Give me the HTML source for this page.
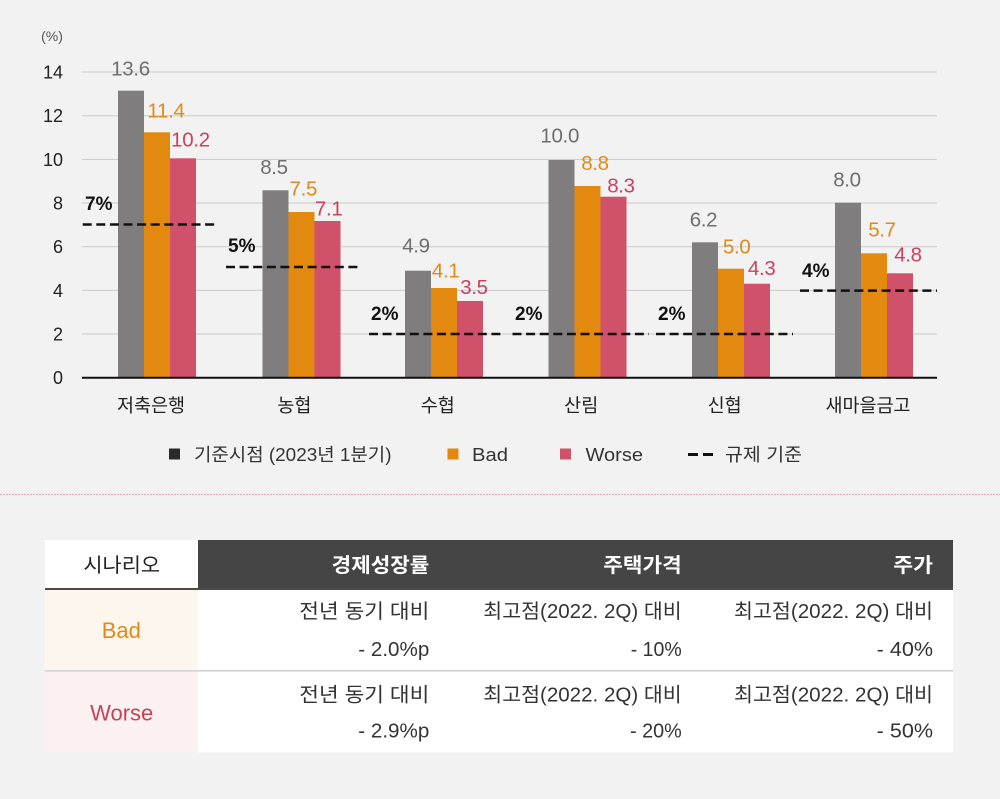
<!DOCTYPE html>
<html>
<head>
<meta charset="utf-8">
<style>
html,body{margin:0;padding:0;background:#f2f2f2;}
svg{display:block;}
text{font-family:"Liberation Sans","Noto Sans CJK KR",sans-serif;}
</style>
</head>
<body>
<svg width="1000" height="799" viewBox="0 0 1000 799" xmlns="http://www.w3.org/2000/svg">
<rect x="0" y="0" width="1000" height="799" fill="#f2f2f2"/>

<!-- gridlines -->
<g stroke="#c9c9c9" stroke-width="1">
<line x1="82" y1="72" x2="937" y2="72"/>
<line x1="82" y1="115.7" x2="937" y2="115.7"/>
<line x1="82" y1="159.4" x2="937" y2="159.4"/>
<line x1="82" y1="203" x2="937" y2="203"/>
<line x1="82" y1="246.7" x2="937" y2="246.7"/>
<line x1="82" y1="290.4" x2="937" y2="290.4"/>
<line x1="82" y1="334" x2="937" y2="334"/>
</g>

<!-- y ticks -->
<g font-size="18" fill="#222" text-anchor="end">
<text x="63" y="78.5">14</text>
<text x="63" y="122.2">12</text>
<text x="63" y="165.9">10</text>
<text x="63" y="209.5">8</text>
<text x="63" y="253.2">6</text>
<text x="63" y="296.9">4</text>
<text x="63" y="340.5">2</text>
<text x="63" y="384.2">0</text>
</g>
<text x="52" y="41" font-size="14" fill="#555" text-anchor="middle">(%)</text>

<!-- bars -->
<g>
<rect x="118" y="90.7" width="26" height="286.3" fill="#7f7d7e"/>
<rect x="144" y="132.3" width="26" height="244.7" fill="#e4890f"/>
<rect x="170" y="158.3" width="26" height="218.7" fill="#d0516a"/>

<rect x="262.5" y="190.3" width="26" height="186.7" fill="#7f7d7e"/>
<rect x="288.5" y="212" width="26" height="165" fill="#e4890f"/>
<rect x="314.5" y="221" width="26" height="156" fill="#d0516a"/>

<rect x="405" y="270.7" width="26" height="106.3" fill="#7f7d7e"/>
<rect x="431" y="288" width="26" height="89" fill="#e4890f"/>
<rect x="457" y="301" width="26" height="76" fill="#d0516a"/>

<rect x="548.5" y="160" width="26" height="217" fill="#7f7d7e"/>
<rect x="574.5" y="186" width="26" height="191" fill="#e4890f"/>
<rect x="600.5" y="196.7" width="26" height="180.3" fill="#d0516a"/>

<rect x="692" y="242.3" width="26" height="134.7" fill="#7f7d7e"/>
<rect x="718" y="268.7" width="26" height="108.3" fill="#e4890f"/>
<rect x="744" y="283.7" width="26" height="93.3" fill="#d0516a"/>

<rect x="835" y="202.7" width="26" height="174.3" fill="#7f7d7e"/>
<rect x="861" y="253.3" width="26" height="123.7" fill="#e4890f"/>
<rect x="887" y="273.3" width="26" height="103.7" fill="#d0516a"/>
</g>

<!-- axis -->
<line x1="82" y1="377.7" x2="937" y2="377.7" stroke="#111" stroke-width="2"/>

<!-- regulation dashed lines -->
<g stroke="#111" stroke-width="2.5" stroke-dasharray="9 4.6">
<line x1="82.7" y1="224.5" x2="218" y2="224.5"/>
<line x1="226" y1="267" x2="362" y2="267"/>
<line x1="369" y1="334" x2="505" y2="334"/>
<line x1="512.5" y1="334" x2="649" y2="334"/>
<line x1="656" y1="334" x2="793" y2="334"/>
<line x1="800" y1="290.6" x2="937" y2="290.6"/>
</g>

<!-- regulation labels -->
<g font-size="19" font-weight="bold" fill="#111">
<text x="85" y="210">7%</text>
<text x="228" y="252">5%</text>
<text x="371" y="320">2%</text>
<text x="515" y="320">2%</text>
<text x="658" y="320">2%</text>
<text x="802" y="277">4%</text>
</g>

<!-- value labels -->
<g font-size="20.5" text-anchor="middle" letter-spacing="-0.3">
<text x="130.5" y="75.3" fill="#6e6e6e">13.6</text>
<text x="166" y="117.3" fill="#e08a1a">11.4</text>
<text x="190.5" y="146.6" fill="#c9415c">10.2</text>

<text x="274" y="174" fill="#6e6e6e">8.5</text>
<text x="303.3" y="195.6" fill="#e08a1a">7.5</text>
<text x="328.7" y="215.6" fill="#c9415c">7.1</text>

<text x="416" y="252.3" fill="#6e6e6e">4.9</text>
<text x="445.7" y="277.3" fill="#e08a1a">4.1</text>
<text x="474" y="294" fill="#c9415c">3.5</text>

<text x="559.7" y="142.3" fill="#6e6e6e">10.0</text>
<text x="595" y="170" fill="#e08a1a">8.8</text>
<text x="621" y="192.3" fill="#c9415c">8.3</text>

<text x="703.5" y="226.3" fill="#6e6e6e">6.2</text>
<text x="736.7" y="253.3" fill="#e08a1a">5.0</text>
<text x="761.7" y="275" fill="#c9415c">4.3</text>

<text x="847" y="186.3" fill="#6e6e6e">8.0</text>
<text x="882" y="236.3" fill="#e08a1a">5.7</text>
<text x="908" y="261.3" fill="#c9415c">4.8</text>
</g>

<!-- category labels -->
<g font-size="18.5" fill="#222" text-anchor="middle">
<text x="151" y="412">저축은행</text>
<text x="294.4" y="412">농협</text>
<text x="437.8" y="412">수협</text>
<text x="581.2" y="412">산림</text>
<text x="724.6" y="412">신협</text>
<text x="868" y="412">새마을금고</text>
</g>

<!-- legend -->
<rect x="169" y="448.5" width="11" height="11" fill="#2a2a2a"/>
<text x="194" y="461" font-size="18" fill="#333" textLength="197.5" lengthAdjust="spacingAndGlyphs">기준시점 (2023년 1분기)</text>
<rect x="447.5" y="448.5" width="11" height="11" fill="#e4890f"/>
<text x="472" y="461" font-size="18" fill="#333" textLength="36" lengthAdjust="spacingAndGlyphs">Bad</text>
<rect x="560" y="448.5" width="11" height="11" fill="#d0516a"/>
<text x="585.5" y="461" font-size="18" fill="#333" textLength="57.5" lengthAdjust="spacingAndGlyphs">Worse</text>
<line x1="688" y1="454.5" x2="713" y2="454.5" stroke="#111" stroke-width="3" stroke-dasharray="10 5"/>
<text x="725" y="461" font-size="18" fill="#333" textLength="77" lengthAdjust="spacingAndGlyphs">규제 기준</text>

<!-- separator -->
<line x1="0" y1="494.5" x2="1000" y2="494.5" stroke="#e6adbc" stroke-width="1.2" stroke-dasharray="2 1"/>

<!-- table -->
<rect x="45" y="540" width="153" height="49" fill="#ffffff"/>
<rect x="198" y="540" width="755" height="49" fill="#454545"/>
<rect x="45" y="590" width="153" height="80.5" fill="#fdf6ec"/>
<rect x="198" y="590" width="755" height="80.5" fill="#ffffff"/>
<rect x="45" y="671.5" width="153" height="81" fill="#fbf1f1"/>
<rect x="198" y="671.5" width="755" height="81" fill="#ffffff"/>
<line x1="45" y1="589" x2="953" y2="589" stroke="#4a4a4a" stroke-width="2"/>
<line x1="45" y1="670.8" x2="953" y2="670.8" stroke="#d2d2d2" stroke-width="1.6"/>

<text x="121.7" y="572" font-size="20" fill="#222" text-anchor="middle" textLength="76.7" lengthAdjust="spacingAndGlyphs">시나리오</text>
<g font-size="20" fill="#ffffff" font-weight="bold" text-anchor="end">
<text x="429.3" y="572" textLength="97.6" lengthAdjust="spacingAndGlyphs">경제성장률</text>
<text x="681.7" y="572" textLength="78.4" lengthAdjust="spacingAndGlyphs">주택가격</text>
<text x="933" y="572" textLength="39.7" lengthAdjust="spacingAndGlyphs">주가</text>
</g>

<text x="121.3" y="638" font-size="22" fill="#e08a1a" text-anchor="middle">Bad</text>
<text x="121.7" y="720.6" font-size="22" fill="#c8405a" text-anchor="middle">Worse</text>

<g font-size="20" fill="#333" text-anchor="end">
<text x="429.3" y="618" textLength="130" lengthAdjust="spacingAndGlyphs">전년 동기 대비</text>
<text x="429.3" y="656" textLength="71" lengthAdjust="spacingAndGlyphs">- 2.0%p</text>
<text x="681.7" y="618" textLength="198.4" lengthAdjust="spacingAndGlyphs">최고점(2022. 2Q) 대비</text>
<text x="681.7" y="656" textLength="51" lengthAdjust="spacingAndGlyphs">- 10%</text>
<text x="933" y="618" textLength="199" lengthAdjust="spacingAndGlyphs">최고점(2022. 2Q) 대비</text>
<text x="933" y="656" textLength="56.3" lengthAdjust="spacingAndGlyphs">- 40%</text>

<text x="429.3" y="701.5" textLength="130" lengthAdjust="spacingAndGlyphs">전년 동기 대비</text>
<text x="429.3" y="737.5" textLength="71" lengthAdjust="spacingAndGlyphs">- 2.9%p</text>
<text x="681.7" y="701.5" textLength="198.4" lengthAdjust="spacingAndGlyphs">최고점(2022. 2Q) 대비</text>
<text x="681.7" y="737.5" textLength="51.7" lengthAdjust="spacingAndGlyphs">- 20%</text>
<text x="933" y="701.5" textLength="199" lengthAdjust="spacingAndGlyphs">최고점(2022. 2Q) 대비</text>
<text x="933" y="737.5" textLength="56.3" lengthAdjust="spacingAndGlyphs">- 50%</text>
</g>
</svg>
</body>
</html>
